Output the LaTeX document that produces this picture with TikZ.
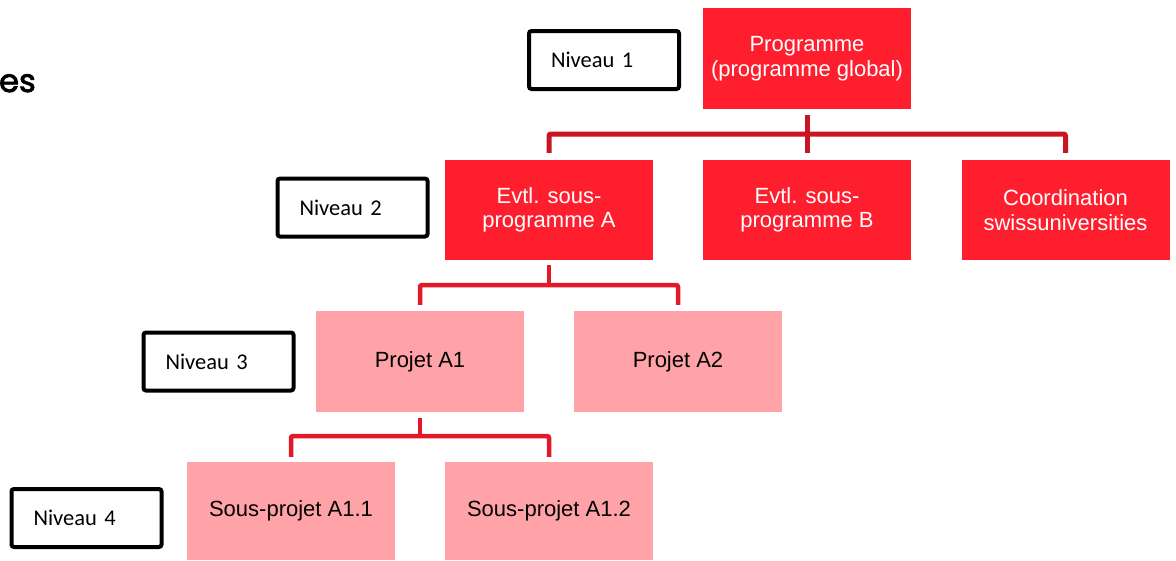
\documentclass[tikz,border=0pt]{standalone}
\usepackage{fontspec}
\setmainfont{Liberation Sans}
\newfontfamily\calib{Carlito}
\newfontfamily\pop{Poppins}[FakeBold=2.5]
\usetikzlibrary{calc}
\definecolor{boxred}{RGB}{255,30,45}
\definecolor{boxpink}{RGB}{255,163,168}
\definecolor{linedark}{RGB}{200,20,35}
\definecolor{linered}{RGB}{228,24,40}
\tikzset{
  redbox/.style={fill=boxred, text=white, minimum width=208pt, minimum height=101pt, inner sep=0pt, align=center, font=\fontsize{22}{24.5}\selectfont},
  pinkbox/.style={fill=boxpink, text=black, minimum width=208pt, minimum height=101pt, inner sep=0pt, align=center, font=\fontsize{22}{24.5}\selectfont},
  levelbox/.style={draw=black, line width=4pt, rounded corners=2.5pt, minimum width=150pt, minimum height=58pt, text width=106pt, inner xsep=22pt, inner ysep=0pt, align=left, font=\calib\fontsize{22.5}{24}\selectfont},
  conntop/.style={draw=linedark, line width=5pt},
  conn/.style={draw=linered, line width=4.5pt},
}
\begin{document}
\begin{tikzpicture}[x=1pt,y=-1pt]
\useasboundingbox (0,0) rectangle (1176,560);
\fill[white] (0,0) rectangle (1176,560);
% title fragment
\node[anchor=base west, inner sep=0pt, font=\pop\fontsize{32}{34}\selectfont] (title) at (-1,92) {es};
% level labels
\node[levelbox] (n1) at (604,60) {Niveau 1};
\node[levelbox] (n2) at (352.5,207.5) {Niveau 2};
\node[levelbox] (n3) at (218.5,361.5) {Niveau 3};
\node[levelbox] (n4) at (86.5,518) {Niveau 4};
% boxes
\node[redbox] (prog) at (807,58.5) {Programme\\(programme global)};
\node[redbox, minimum height=100pt] (eva) at (549,210) {Evtl. sous-\\programme A};
\node[redbox, minimum height=100pt] (evb) at (807,210) {Evtl. sous-\\programme B};
\node[redbox, minimum height=100pt] (coord) at (1065.5,210) {Coordination\\swissuniversities};
\node[pinkbox] (pa1) at (420,361.5) {Projet A1};
\node[pinkbox] (pa2) at (678,361.5) {Projet A2};
\node[pinkbox, minimum height=98pt] (sp11) at (291,511) {Sous-projet A1.1};
\node[pinkbox, minimum height=98pt] (sp12) at (549,511) {Sous-projet A1.2};
% hubs
\coordinate (h1) at (807,134);
\coordinate (h2) at (549,285);
\coordinate (h3) at (420,436);
% connectors level 1 -> 2
\draw[conntop] ([yshift=-6pt]prog.south) -- ([yshift=7pt]evb.north);
\draw[conntop, rounded corners=2pt] ([yshift=7pt]eva.north) |- (h1) -| ([yshift=7pt]coord.north);
% level 2 -> 3
\draw[conn] ([yshift=-5pt]eva.south) -- (h2);
\draw[conn, rounded corners=2pt] ([yshift=6pt]pa1.north) |- (h2) -| ([yshift=6pt]pa2.north);
% level 3 -> 4
\draw[conn] ([yshift=-6pt]pa1.south) -- (h3);
\draw[conn, rounded corners=2pt] ([yshift=5pt]sp11.north) |- (h3) -| ([yshift=5pt]sp12.north);
\end{tikzpicture}
\end{document}
